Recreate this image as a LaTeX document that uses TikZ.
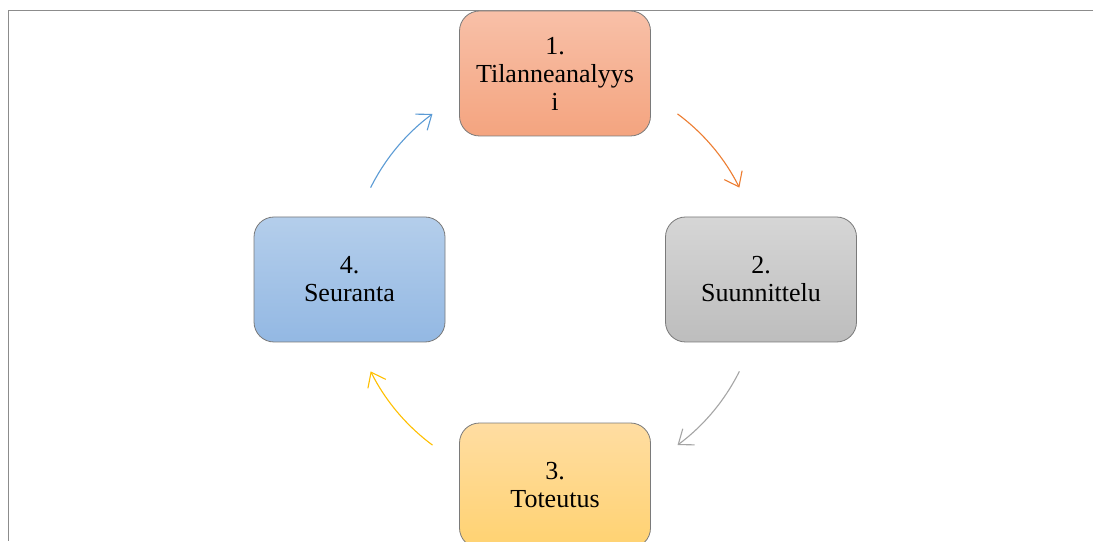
\documentclass[tikz,border=0pt]{standalone}
\usepackage{fontspec}
\setmainfont{Liberation Serif}
\usetikzlibrary{arrows.meta}
\definecolor{frameclr}{HTML}{8C8C8C}
\definecolor{edgeclr}{HTML}{7A7A7A}
\definecolor{orTop}{HTML}{F8C0A8}
\definecolor{orBot}{HTML}{F4A47F}
\definecolor{grTop}{HTML}{D6D6D6}
\definecolor{grBot}{HTML}{BDBDBD}
\definecolor{yeTop}{HTML}{FFDDA2}
\definecolor{yeBot}{HTML}{FFD271}
\definecolor{blTop}{HTML}{B4CEEB}
\definecolor{blBot}{HTML}{93B8E3}
\definecolor{arrOr}{HTML}{ED7D31}
\definecolor{arrGr}{HTML}{A5A5A5}
\definecolor{arrYe}{HTML}{FFC000}
\definecolor{arrBl}{HTML}{5B9BD5}
\tikzset{
  phase/.style={draw=edgeclr, line width=0.8pt, rounded corners=20pt,
    minimum width=191pt, minimum height=125pt, align=center,
    font=\fontsize{26}{28}\selectfont, inner sep=0pt},
  cycarrow/.style={line width=1.1pt, -{Straight Barb[length=13pt,width=20pt]}}
}
\begin{document}
\begin{tikzpicture}[x=1pt,y=1pt]
  \useasboundingbox (0,0) rectangle (1094,541);
  \clip (0,0) rectangle (1094,541);
  \fill[white] (0,0) rectangle (1094,541);
  % frame lines
  \draw[frameclr, line width=1pt] (1093,530) -- (8,530) -- (8,0);
  % phases
  \node[phase, top color=orTop, bottom color=orBot] (p1) at (555,467.5) {1.\\Tilanneanalyys\\i};
  \node[phase, top color=grTop, bottom color=grBot] (p2) at (761,261.5) {2.\\Suunnittelu};
  \node[phase, top color=yeTop, bottom color=yeBot] (p3) at (555,55.5) {3.\\Toteutus};
  \node[phase, top color=blTop, bottom color=blBot] (p4) at (349.5,261.5) {4.\\Seuranta};
  % cycle arrows on a circle through the phase centres
  \coordinate (hub) at (555,261.5);
  \draw[cycarrow, arrOr] (hub) ++(53.5:206) arc[start angle=53.5, end angle=26.5, radius=206];
  \draw[cycarrow, arrGr] (hub) ++(-26.5:206) arc[start angle=-26.5, end angle=-53.5, radius=206];
  \draw[cycarrow, arrYe] (hub) ++(-126.5:206) arc[start angle=-126.5, end angle=-153.5, radius=206];
  \draw[cycarrow, arrBl] (hub) ++(153.5:206) arc[start angle=153.5, end angle=126.5, radius=206];
\end{tikzpicture}
\end{document}
